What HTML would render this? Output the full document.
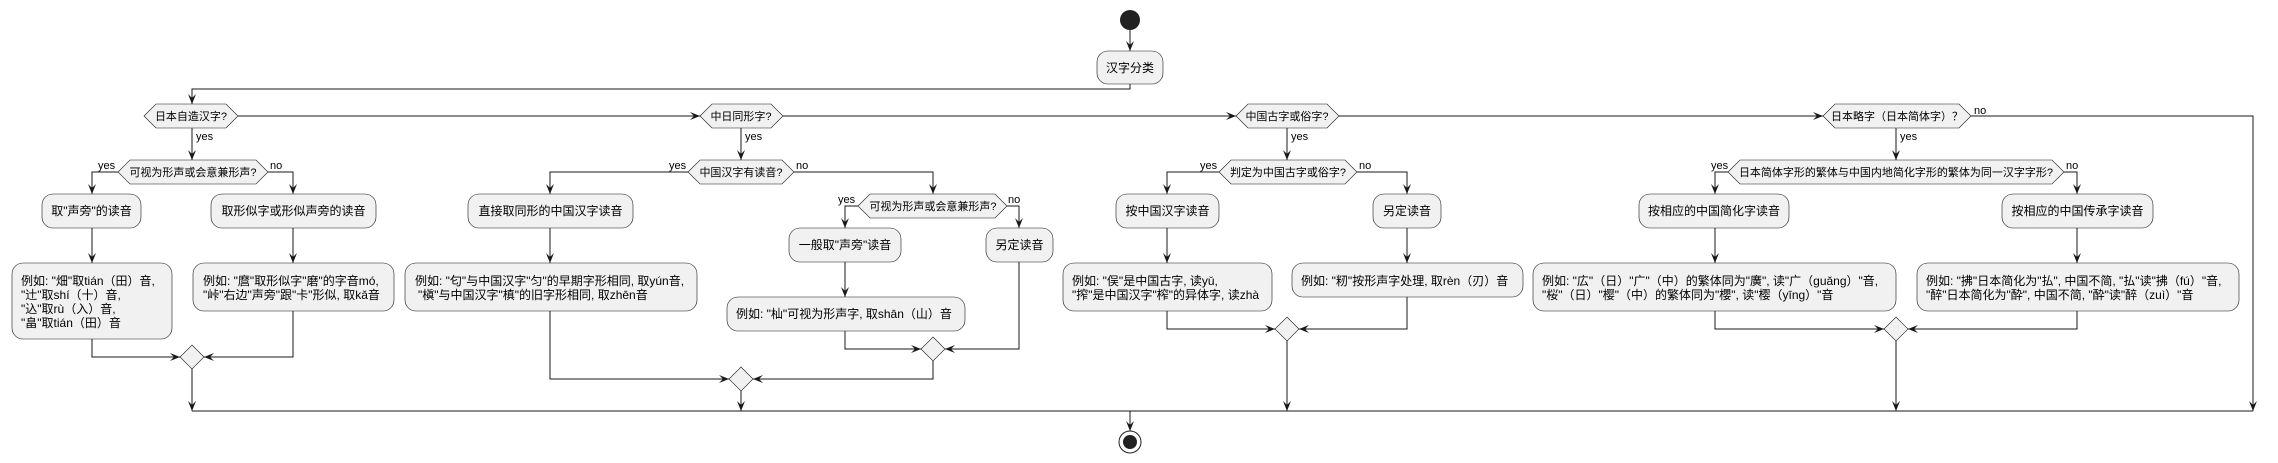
<!DOCTYPE html>
<html><head><meta charset="utf-8"><style>
html,body{margin:0;padding:0;background:#fff;}
svg{display:block;}
text{font-family:"Liberation Sans","Noto Sans CJK SC",sans-serif;fill:#000;}
.b{fill:#F1F1F1;stroke:#181818;stroke-width:0.6;}
.l{fill:none;stroke:#181818;stroke-width:1;}
.t{font-size:12px;}
.d{font-size:11px;}
.s{font-size:11px;}
</style></head><body>
<svg width="2278" height="463" viewBox="0 0 2278 463" xmlns="http://www.w3.org/2000/svg">
<defs><marker id="a" viewBox="0 0 10 8" refX="10" refY="4" markerWidth="10" markerHeight="8" orient="auto" markerUnits="userSpaceOnUse"><path d="M0,0 L10,4 L0,8 L4,4 Z" fill="#181818"/></marker></defs>

<circle cx="1130" cy="20" r="10" fill="#222"/>
<path class="l" d="M1130,30 V51" marker-end="url(#a)"/>
<rect class="b" x="1097" y="51" width="66" height="33" rx="11"/>
<text class="t" x="1130" y="72" text-anchor="middle">汉字分类</text>
<path class="l" d="M1130,84 V89 H192 V104" marker-end="url(#a)"/>

<polygon class="b" points="144,116 156,104 226,104 238,116 226,128 156,128"/>
<text class="d" x="191" y="120" text-anchor="middle">日本自造汉字?</text>
<polygon class="b" points="700,116 712,104 771,104 783,116 771,128 712,128"/>
<text class="d" x="741" y="120" text-anchor="middle">中日同形字?</text>
<polygon class="b" points="1236,116 1248,104 1327,104 1339,116 1327,128 1248,128"/>
<text class="d" x="1287" y="120" text-anchor="middle">中国古字或俗字?</text>
<polygon class="b" points="1823,116 1835,104 1959,104 1971,116 1959,128 1835,128"/>
<text class="d" x="1897" y="120" text-anchor="middle">日本略字（日本简体字）？</text>
<path class="l" d="M238,116 H700" marker-end="url(#a)"/>
<path class="l" d="M783,116 H1236" marker-end="url(#a)"/>
<path class="l" d="M1339,116 H1823" marker-end="url(#a)"/>
<path class="l" d="M1971,116 H2253 V411" marker-end="url(#a)"/>
<text class="s" x="1974" y="114">no</text>

<path class="l" d="M192,128 V160" marker-end="url(#a)"/><text class="s" x="196" y="140">yes</text>
<path class="l" d="M741,128 V160" marker-end="url(#a)"/><text class="s" x="745" y="140">yes</text>
<path class="l" d="M1287,128 V160" marker-end="url(#a)"/><text class="s" x="1291" y="140">yes</text>
<path class="l" d="M1896,128 V160" marker-end="url(#a)"/><text class="s" x="1900" y="140">yes</text>

<polygon class="b" points="118,172 130,160 256,160 268,172 256,184 130,184"/>
<text class="d" x="193" y="176" text-anchor="middle">可视为形声或会意兼形声?</text>
<path class="l" d="M118,172 H92 V194" marker-end="url(#a)"/><text class="s" x="98" y="169">yes</text>
<path class="l" d="M268,172 H293 V194" marker-end="url(#a)"/><text class="s" x="270" y="169">no</text>
<rect class="b" x="42" y="194" width="99" height="34" rx="11"/>
<text class="t" x="91.5" y="215" text-anchor="middle">取"声旁"的读音</text>
<rect class="b" x="211" y="194" width="165" height="34" rx="11"/>
<text class="t" x="293.5" y="215" text-anchor="middle">取形似字或形似声旁的读音</text>
<path class="l" d="M92,228 V263" marker-end="url(#a)"/>
<path class="l" d="M293,228 V263" marker-end="url(#a)"/>
<rect class="b" x="12" y="263" width="160" height="76" rx="11"/>
<text class="t" x="21" y="285">例如: "畑"取tián（田）音,</text>
<text class="t" x="21" y="299">"辻"取shí（十）音,</text>
<text class="t" x="21" y="313">"込"取rù（入）音,</text>
<text class="t" x="21" y="327">"畠"取tián（田）音</text>
<rect class="b" x="193" y="263" width="201" height="48" rx="11"/>
<text class="t" x="203" y="285">例如: "麿"取形似字"磨"的字音mó,</text>
<text class="t" x="203" y="299">"峠"右边"声旁"跟"卡"形似, 取kǎ音</text>
<polygon class="b" points="192,345 204,357 192,369 180,357"/>
<path class="l" d="M92,339 V357 H180" marker-end="url(#a)"/>
<path class="l" d="M293,311 V357 H204" marker-end="url(#a)"/>
<path class="l" d="M192,369 V411" marker-end="url(#a)"/>

<polygon class="b" points="688,172 700,160 782,160 794,172 782,184 700,184"/>
<text class="d" x="741" y="176" text-anchor="middle">中国汉字有读音?</text>
<path class="l" d="M688,172 H550 V194" marker-end="url(#a)"/><text class="s" x="669" y="169">yes</text>
<path class="l" d="M794,172 H933 V194" marker-end="url(#a)"/><text class="s" x="796" y="169">no</text>
<rect class="b" x="468" y="194" width="165" height="34" rx="11"/>
<text class="t" x="550.5" y="215" text-anchor="middle">直接取同形的中国汉字读音</text>
<path class="l" d="M550,228 V263" marker-end="url(#a)"/>
<rect class="b" x="405" y="263" width="292" height="48" rx="11"/>
<text class="t" x="415" y="285">例如: "匂"与中国汉字"匀"的早期字形相同, 取yún音,</text>
<text class="t" x="418" y="299">"槇"与中国汉字"槙"的旧字形相同, 取zhēn音</text>
<polygon class="b" points="858,206 870,194 995,194 1007,206 995,218 870,218"/>
<text class="d" x="933" y="210" text-anchor="middle">可视为形声或会意兼形声?</text>
<path class="l" d="M858,206 H845 V228" marker-end="url(#a)"/><text class="s" x="838" y="203">yes</text>
<path class="l" d="M1007,206 H1019 V228" marker-end="url(#a)"/><text class="s" x="1008" y="203">no</text>
<rect class="b" x="789" y="228" width="112" height="34" rx="11"/>
<text class="t" x="845" y="249" text-anchor="middle">一般取"声旁"读音</text>
<rect class="b" x="986" y="228" width="67" height="34" rx="11"/>
<text class="t" x="1019.5" y="249" text-anchor="middle">另定读音</text>
<path class="l" d="M845,262 V297" marker-end="url(#a)"/>
<rect class="b" x="727" y="297" width="238" height="34" rx="11"/>
<text class="t" x="736" y="318">例如: "杣"可视为形声字, 取shān（山）音</text>
<polygon class="b" points="933,337 945,349 933,361 921,349"/>
<path class="l" d="M845,331 V349 H921" marker-end="url(#a)"/>
<path class="l" d="M1019,262 V349 H945" marker-end="url(#a)"/>
<polygon class="b" points="741,367 753,379 741,391 729,379"/>
<path class="l" d="M550,311 V379 H729" marker-end="url(#a)"/>
<path class="l" d="M933,361 V379 H753" marker-end="url(#a)"/>
<path class="l" d="M741,391 V411" marker-end="url(#a)"/>

<polygon class="b" points="1219,172 1231,160 1345,160 1357,172 1345,184 1231,184"/>
<text class="d" x="1288" y="176" text-anchor="middle">判定为中国古字或俗字?</text>
<path class="l" d="M1219,172 H1167 V194" marker-end="url(#a)"/><text class="s" x="1200" y="169">yes</text>
<path class="l" d="M1357,172 H1407 V194" marker-end="url(#a)"/><text class="s" x="1359" y="169">no</text>
<rect class="b" x="1116" y="194" width="103" height="34" rx="11"/>
<text class="t" x="1167.5" y="215" text-anchor="middle">按中国汉字读音</text>
<rect class="b" x="1373" y="194" width="68" height="34" rx="11"/>
<text class="t" x="1407" y="215" text-anchor="middle">另定读音</text>
<path class="l" d="M1167,228 V263" marker-end="url(#a)"/>
<path class="l" d="M1407,228 V263" marker-end="url(#a)"/>
<rect class="b" x="1063" y="263" width="209" height="48" rx="11"/>
<text class="t" x="1072" y="285">例如: "俣"是中国古字, 读yǔ,</text>
<text class="t" x="1072" y="299">"搾"是中国汉字"榨"的异体字, 读zhà</text>
<rect class="b" x="1292" y="263" width="231" height="34" rx="11"/>
<text class="t" x="1301" y="285">例如: "籾"按形声字处理, 取rèn（刃）音</text>
<polygon class="b" points="1287,317 1299,329 1287,341 1275,329"/>
<path class="l" d="M1167,311 V329 H1275" marker-end="url(#a)"/>
<path class="l" d="M1407,297 V329 H1299" marker-end="url(#a)"/>
<path class="l" d="M1287,341 V411" marker-end="url(#a)"/>

<polygon class="b" points="1728,172 1740,160 2052,160 2064,172 2052,184 1740,184"/>
<text class="d" x="1896" y="176" text-anchor="middle">日本简体字形的繁体与中国内地简化字形的繁体为同一汉字字形?</text>
<path class="l" d="M1728,172 H1715 V194" marker-end="url(#a)"/><text class="s" x="1711" y="169">yes</text>
<path class="l" d="M2064,172 H2077 V194" marker-end="url(#a)"/><text class="s" x="2066" y="169">no</text>
<rect class="b" x="1639" y="194" width="150" height="34" rx="11"/>
<text class="t" x="1714" y="215" text-anchor="middle">按相应的中国简化字读音</text>
<rect class="b" x="2002" y="194" width="151" height="34" rx="11"/>
<text class="t" x="2077.5" y="215" text-anchor="middle">按相应的中国传承字读音</text>
<path class="l" d="M1715,228 V263" marker-end="url(#a)"/>
<path class="l" d="M2077,228 V263" marker-end="url(#a)"/>
<rect class="b" x="1533" y="263" width="363" height="48" rx="11"/>
<text class="t" x="1542" y="285">例如: "広"（日）"广"（中）的繁体同为"廣", 读"广（guǎng）"音,</text>
<text class="t" x="1542" y="299">"桜"（日）"樱"（中）的繁体同为"櫻", 读"樱（yīng）"音</text>
<rect class="b" x="1917" y="263" width="322" height="48" rx="11"/>
<text class="t" x="1926" y="285">例如: "拂"日本简化为"払", 中国不简, "払"读"拂（fú）"音,</text>
<text class="t" x="1926" y="299">"醉"日本简化为"酔", 中国不简, "酔"读"醉（zuì）"音</text>
<polygon class="b" points="1896,317 1908,329 1896,341 1884,329"/>
<path class="l" d="M1715,311 V329 H1884" marker-end="url(#a)"/>
<path class="l" d="M2077,311 V329 H1908" marker-end="url(#a)"/>
<path class="l" d="M1896,341 V411" marker-end="url(#a)"/>

<path class="l" d="M192,411 H2253"/>
<path class="l" d="M1130,411 V431" marker-end="url(#a)"/>
<circle cx="1130" cy="442" r="11" fill="#fff" stroke="#222" stroke-width="1"/>
<circle cx="1130" cy="442" r="7" fill="#222"/>
</svg>
</body></html>
